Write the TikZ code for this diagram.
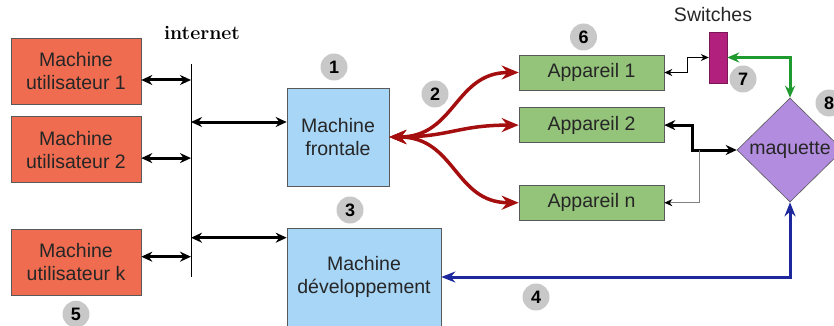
\documentclass[tikz,border=0pt]{standalone}
\usepackage{fontspec}
\setsansfont{Liberation Sans}
\usetikzlibrary{arrows.meta,shapes,positioning}
\definecolor{userred}{RGB}{240,108,80}
\definecolor{machblue}{RGB}{168,214,247}
\definecolor{devgreen}{RGB}{148,196,122}
\definecolor{mqpurple}{RGB}{178,140,222}
\definecolor{swmagenta}{RGB}{176,32,124}
\definecolor{numgray}{RGB}{200,200,200}
\definecolor{linkred}{RGB}{165,14,14}
\definecolor{linkblue}{RGB}{28,40,156}
\definecolor{linkgreen}{RGB}{30,154,46}
\tikzset{
  basic/.style={
  draw=gray!70!black,
  line width=0.6pt,
  font=\sffamily\fontsize{19.5}{23}\selectfont,
  text=black!85,
  align=center,
  inner sep=0pt,
  },
  user/.style={basic, fill=userred, minimum width=130pt, minimum height=66pt},
  machine/.style={basic, fill=machblue, minimum height=98pt},
  device/.style={basic, fill=devgreen, minimum width=145pt, minimum height=35pt},
  num/.style={circle, fill=numgray, inner sep=0pt, minimum size=27pt,
    font=\sffamily\bfseries\fontsize{18}{18}\selectfont},
  link/.style={<->, line width=3pt, black},
  thinlink/.style={{Stealth[length=8pt,width=7pt]}-{Stealth[length=8pt,width=7pt]}, line width=0.9pt, black},
  redlink/.style={{Stealth[length=17pt,width=14pt]}-{Stealth[length=17pt,width=14pt]}, line width=3.5pt, linkred},
  bluelink/.style={{Stealth[length=14pt,width=11pt]}-{Stealth[length=14pt,width=11pt]}, line width=3pt, linkblue},
  greenlink/.style={{Stealth[length=12pt,width=10pt]}-{Stealth[length=12pt,width=10pt]}, line width=3pt, linkgreen},
}

\begin{document}
\begin{tikzpicture}[
  x=1pt, y=-1pt,
  >={Stealth[length=11pt,width=10pt]},
  ]
\useasboundingbox (0,0) rectangle (834,326);
\clip (0,0) rectangle (834,326);

% user machines
\node[user](um1) at (76,71){Machine \\ utilisateur 1};
\node[user, below=12pt of um1](um2){Machine \\ utilisateur 2};
\node[user, below=46pt of um2](umk){Machine \\ utilisateur k};

% internet
\coordinate (nettop) at (191,64);
\coordinate (netbot) at (191,277);
\draw[line width=0.8pt] (nettop) -- (netbot);
\node[font=\bfseries\fontsize{19.5}{19.5}\selectfont](net) at (202,33){internet};

% front and dev machines
\node[machine, minimum width=102pt](front) at (338,137){Machine \\ frontale};
\node[machine, minimum width=154pt](dev) at (364,277){Machine \\ développement};

% devices
\node[device](app1) at (591.5,72.5){Appareil 1};
\node[device, below=17pt of app1](app2){Appareil 2};
\node[device, below=42pt of app2](appn){Appareil n};

% switches and maquette
\node[draw=swmagenta!70!black, fill=swmagenta, minimum width=18pt, minimum height=51pt,
  inner sep=0pt](sw) at (718,57.5){};
\node[basic, draw=none, above=10pt of sw, xshift=-5pt](swlabel){Switches};
\node[basic, diamond, fill=mqpurple, minimum width=106pt, minimum height=104pt](mq)
  at (790,150){maquette};

% lines to the internet
\draw[link] ([yshift=-9pt]um1.east) -- ([yshift=-9pt]um1.east -| nettop);
\draw[link] ([yshift=-8.5pt]um2.east) -- ([yshift=-8.5pt]um2.east -| nettop);
\draw[link] ([yshift=5.5pt]umk.east) -- ([yshift=5.5pt]umk.east -| nettop);
\draw[link] ([yshift=15pt]front.west -| nettop) -- ([yshift=15pt]front.west);
\draw[link] ([yshift=-10pt]dev.north west -| nettop) -- ([yshift=-10pt]dev.north west);

% front machine to devices
\draw[redlink] (front.east) .. controls +(66,0) and +(-64,0) .. (app1.west);
\draw[redlink] (front.east) .. controls +(60,0) and +(-60,0) .. (app2.west);
\draw[redlink] (front.east) .. controls +(66,0) and +(-64,0) .. (appn.west);

% devices, switches and maquette
\draw[thinlink] (app1.east) -- ++(23,0) |- (sw.west);
\draw[greenlink] (sw.east) -| (mq.north);
\draw[link] (app2.east) -- ++(28,0) |- (mq.west);
\draw[gray, line width=0.9pt, -{Stealth[length=8pt,width=7pt,black]}]
  ([xshift=-37pt]mq.west) |- (appn.east);
\draw[bluelink] (dev.east) -| (mq.south);

% numbers
\node[num, above=7pt of front, xshift=-4pt](n1){1};
\node[num](n2) at (435,94){2};
\node[num, above=4pt of dev, xshift=-14pt](n3){3};
\node[num](n4) at (536,297){4};
\node[num, below=5pt of umk](n5){5};
\node[num, above=4pt of app1, xshift=-8pt](n6){6};
\node[num](n7) at (743,79){7};
\node[num](n8) at (829,103){8};

\end{tikzpicture}
\end{document}
